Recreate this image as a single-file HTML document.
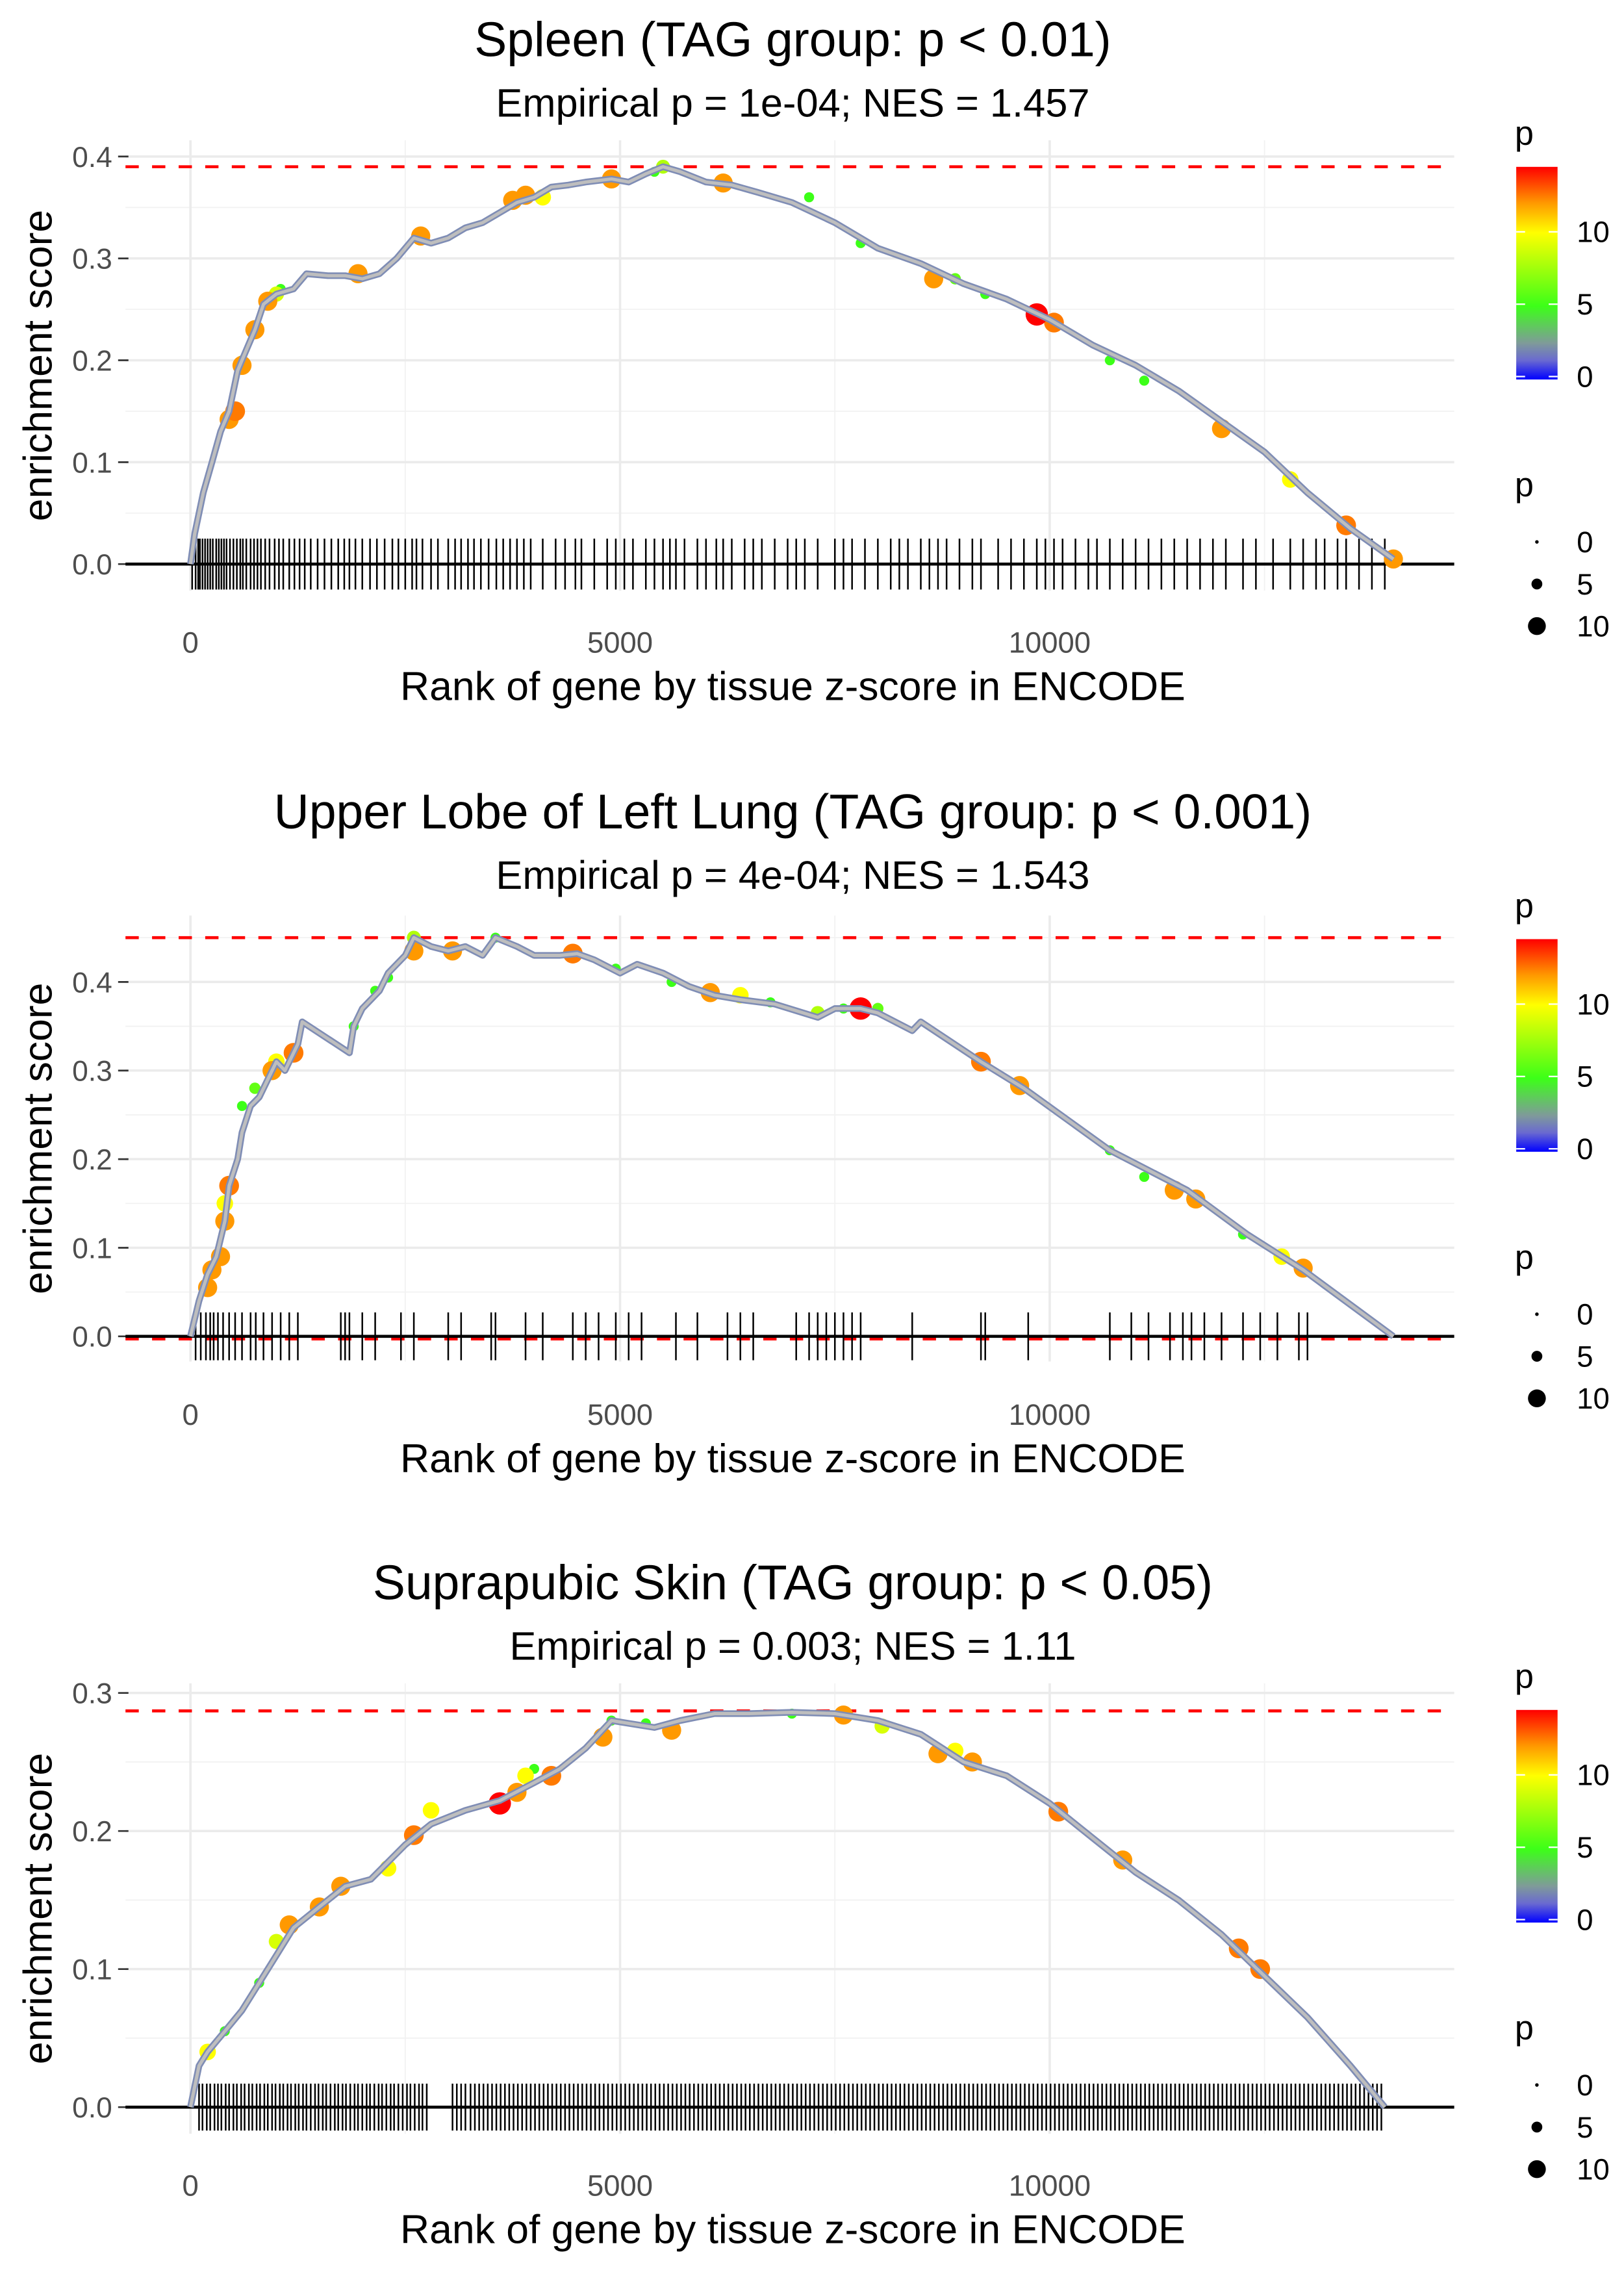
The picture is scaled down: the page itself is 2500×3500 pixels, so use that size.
<!DOCTYPE html>
<html><head><meta charset="utf-8"><style>
html,body{margin:0;padding:0;background:#fff;}
svg{display:block;font-family:"Liberation Sans",sans-serif;}
</style></head><body>
<svg id="chart" xmlns="http://www.w3.org/2000/svg" width="2500" height="3500" viewBox="0 0 1100 1540">
<defs>
<linearGradient id="cbar" x1="0" y1="1" x2="0" y2="0">
<stop offset="0" stop-color="#0000ff"/><stop offset="0.09" stop-color="#6a6ad0"/><stop offset="0.17" stop-color="#7f9a9a"/><stop offset="0.345" stop-color="#3cff18"/><stop offset="0.69" stop-color="#ffff00"/><stop offset="0.83" stop-color="#ff9900"/><stop offset="1" stop-color="#ff0000"/>
</linearGradient>
</defs>
</svg>
<script>
// ---------- data ----------
const p1Curve = [[0,0],[50,0.03],[150,0.07],[250,0.1],[350,0.13],[450,0.15],[550,0.19],[650,0.21],[750,0.23],[850,0.255],[1000,0.265],[1200,0.27],[1350,0.285],[1600,0.283],[1800,0.283],[2000,0.28],[2200,0.285],[2400,0.3],[2600,0.32],[2800,0.315],[3000,0.32],[3200,0.33],[3400,0.335],[3600,0.345],[3800,0.355],[4000,0.36],[4200,0.37],[4400,0.372],[4600,0.375],[4900,0.378],[5100,0.375],[5300,0.383],[5500,0.39],[5700,0.385],[6000,0.375],[6300,0.372],[6600,0.365],[7000,0.355],[7500,0.335],[8000,0.31],[8500,0.295],[9000,0.275],[9500,0.26],[9800,0.248],[10000,0.24],[10500,0.215],[11000,0.195],[11500,0.17],[12000,0.14],[12500,0.11],[13000,0.07],[13500,0.035],[14000,0.005]];
const p1Dots = [[450,0.142,12],[520,0.15,12.5],[600,0.195,12],[750,0.23,12],[900,0.258,12],[1950,0.285,12],[2680,0.322,12],[3750,0.357,12],[3900,0.362,12],[4900,0.378,12],[6200,0.374,12],[8650,0.28,12],[9850,0.245,14.5],[10050,0.237,12.5],[12000,0.133,12],[13450,0.038,12.5],[14000,0.005,12],[4100,0.36,10],[5500,0.39,8],[12800,0.083,10],[1000,0.265,9],[600,0.2,5],[1050,0.27,5],[5400,0.385,5],[7800,0.315,5],[8900,0.28,6],[9250,0.265,5],[10700,0.2,5],[11100,0.18,5],[7200,0.36,5]];
const p1Ticks = [20,60,90,110,140,170,200,230,260,300,330,360,390,420,460,500,540,580,610,650,700,740,780,820,870,920,980,1030,1080,1150,1210,1270,1330,1400,1480,1560,1640,1720,1790,1850,1920,2000,2090,2170,2260,2350,2420,2500,2580,2630,2700,2800,2880,3000,3080,3150,3230,3300,3380,3470,3560,3640,3720,3800,3880,3960,4100,4250,4360,4480,4550,4700,4850,4950,5050,5150,5300,5400,5500,5580,5650,5750,5900,6000,6120,6200,6300,6450,6550,6650,6800,6950,7050,7150,7300,7500,7600,7700,7850,8000,8150,8250,8350,8500,8600,8700,8800,8950,9100,9200,9400,9550,9700,9850,9950,10050,10150,10300,10450,10550,10700,10850,11000,11150,11300,11450,11600,11750,11900,12050,12250,12400,12600,12800,12950,13100,13200,13350,13450,13600,13750,13900];
const p2Curve = [[0,0],[100,0.04],[200,0.07],[300,0.09],[400,0.13],[450,0.17],[550,0.2],[600,0.23],[700,0.26],[800,0.27],[900,0.29],[1000,0.31],[1100,0.3],[1250,0.33],[1300,0.355],[1850,0.32],[1900,0.35],[2000,0.37],[2100,0.38],[2200,0.39],[2300,0.41],[2500,0.43],[2600,0.45],[2800,0.44],[3000,0.435],[3200,0.44],[3400,0.43],[3550,0.45],[3800,0.44],[4000,0.43],[4300,0.43],[4500,0.432],[4700,0.425],[5000,0.41],[5200,0.42],[5500,0.41],[5800,0.395],[6100,0.385],[6400,0.38],[6800,0.375],[7300,0.36],[7500,0.37],[7800,0.37],[8000,0.365],[8400,0.345],[8500,0.355],[9200,0.31],[9700,0.28],[10700,0.21],[11600,0.165],[12300,0.115],[12950,0.075],[14000,0]];
const p2Dots = [[200,0.055,12],[250,0.075,12],[350,0.09,12],[400,0.13,12],[450,0.17,12.5],[950,0.3,12],[1200,0.32,12.5],[2600,0.435,12],[3050,0.435,12],[4450,0.432,12.5],[6050,0.388,12],[6400,0.385,10],[7800,0.37,14.5],[9200,0.31,12.5],[9650,0.283,12],[11450,0.165,12],[11700,0.155,12],[12950,0.077,12],[1000,0.31,10],[2600,0.45,8],[7300,0.365,8],[12700,0.09,10],[400,0.15,10],[600,0.26,5],[750,0.28,6],[1900,0.35,5],[2150,0.39,5],[2300,0.405,5],[3550,0.45,5],[4950,0.415,5],[5600,0.4,5],[6750,0.377,5],[7600,0.37,5],[8000,0.37,6],[10700,0.21,5],[12250,0.115,5],[11100,0.18,5]];
const p2Ticks = [60,120,180,230,270,320,380,450,520,600,700,760,850,950,1050,1150,1250,1750,1800,1850,2000,2150,2450,2600,3000,3150,3500,3550,3900,4100,4450,4600,4750,4950,5100,5250,5650,5900,6250,6400,6550,7050,7200,7300,7400,7500,7600,7700,7800,8400,9200,9250,9750,10700,10950,11150,11400,11550,11650,11800,12000,12250,12450,12650,12900,13000];
const p3Curve = [[0,0],[100,0.03],[200,0.04],[400,0.055],[600,0.07],[800,0.09],[1000,0.11],[1200,0.13],[1500,0.145],[1800,0.16],[2100,0.165],[2500,0.19],[2800,0.205],[3200,0.215],[3600,0.222],[4000,0.235],[4300,0.245],[4600,0.26],[4900,0.28],[5100,0.278],[5400,0.275],[5700,0.28],[6100,0.285],[6500,0.285],[7000,0.286],[7500,0.285],[8000,0.28],[8500,0.27],[9000,0.25],[9500,0.24],[10000,0.22],[10500,0.195],[11000,0.17],[11500,0.15],[12000,0.125],[12500,0.095],[13000,0.065],[13500,0.03],[13900,0]];
const p3Dots = [[1150,0.132,12],[1500,0.145,12],[1750,0.16,12],[2600,0.197,12.5],[3600,0.22,14.5],[3800,0.228,12],[4200,0.24,12.5],[4800,0.268,12],[5600,0.273,12],[7600,0.284,12],[8700,0.256,12],[9100,0.25,12],[10100,0.214,12.5],[10850,0.179,12],[12200,0.115,12.5],[12450,0.1,12.5],[200,0.04,10],[1000,0.12,9],[2300,0.173,10],[2800,0.215,10],[3900,0.24,10],[8050,0.276,9],[8900,0.258,10],[400,0.055,5],[800,0.09,5],[4000,0.245,5],[4900,0.28,5],[5300,0.278,5],[7000,0.285,5]];
const p3Ticks = [100,140,190,230,280,320,360,410,450,500,540,590,630,680,720,770,810,860,900,950,990,1040,1080,1130,1170,1220,1260,1310,1350,1400,1450,1490,1540,1580,1630,1680,1720,1770,1810,1860,1910,1950,2000,2050,2090,2140,2190,2230,2280,2330,2370,2420,2470,2520,2560,2610,2660,2700,2750,3050,3100,3150,3200,3260,3310,3360,3410,3460,3510,3560,3610,3660,3710,3760,3810,3860,3910,3960,4010,4060,4110,4160,4210,4260,4310,4360,4410,4460,4510,4560,4610,4660,4710,4760,4810,4860,4910,4960,5010,5060,5110,5160,5210,5260,5310,5360,5410,5460,5510,5560,5610,5660,5710,5760,5810,5860,5910,5960,6010,6060,6110,6160,6210,6260,6310,6360,6410,6460,6510,6560,6610,6660,6710,6760,6810,6860,6910,6960,7010,7060,7110,7160,7210,7260,7310,7360,7410,7460,7510,7560,7610,7660,7710,7760,7810,7860,7910,7960,8010,8060,8110,8160,8210,8260,8310,8360,8410,8460,8510,8560,8610,8660,8710,8760,8810,8860,8910,8960,9010,9060,9110,9160,9210,9260,9310,9360,9410,9460,9510,9560,9610,9660,9710,9760,9810,9860,9910,9960,10010,10060,10110,10160,10210,10260,10310,10360,10410,10460,10510,10560,10610,10660,10710,10760,10810,10860,10910,10960,11010,11060,11110,11160,11210,11260,11310,11360,11410,11460,11510,11560,11610,11660,11710,11760,11810,11860,11910,11960,12010,12060,12110,12160,12210,12260,12310,12360,12410,12460,12510,12560,12610,12660,12710,12760,12810,12860,12910,12960,13010,13060,13110,13160,13210,13260,13310,13360,13410,13460,13510,13560,13610,13660,13710,13760,13810,13860];
const xTickVals = [0,5000,10000];
const xTickLabels = ["0","5000","10000"];
const p1Max = 0.39, p2Max = 0.45, p2Min = -0.003, p3Max = 0.287;
const titles = ["Spleen (TAG group: p < 0.01)","Upper Lobe of Left Lung (TAG group: p < 0.001)","Suprapubic Skin (TAG group: p < 0.05)"];
const subtitles = ["Empirical p = 1e-04; NES = 1.457","Empirical p = 4e-04; NES = 1.543","Empirical p = 0.003; NES = 1.11"];
const yTicks1 = [0,0.1,0.2,0.3,0.4];
const yTicks2 = [0,0.1,0.2,0.3,0.4];
const yTicks3 = [0,0.1,0.2,0.3];
const legendColorTicks = [0,5,10];
const legendSizeVals = [0,5,10];

// ---------- rendering ----------
const NS = "http://www.w3.org/2000/svg";
const svg = document.getElementById("chart");
function mk(tag, attrs, parent){ const e=document.createElementNS(NS,tag); for(const k in attrs) e.setAttribute(k,attrs[k]); (parent||svg).appendChild(e); return e; }
function xScale(v){ return 129 + v*291/5000; }
const X0 = 85, X1 = 985;
const stops = [[0,[0,0,255]],[1.3,[106,106,208]],[2.5,[127,154,154]],[5,[60,255,24]],[10,[255,255,0]],[12,[255,153,0]],[14.5,[255,0,0]]];
function pColor(p){ for(let i=1;i<stops.length;i++){ if(p<=stops[i][0]){ const a=stops[i-1],b=stops[i]; const t=(p-a[0])/(b[0]-a[0]); const c=a[1].map((v,j)=>Math.round(v+(b[1][j]-v)*t)); return `rgb(${c[0]},${c[1]},${c[2]})`; } } return "rgb(255,0,0)"; }
function pRadius(p){ return 1.2 + p*0.44; }

function panel(idx, off, y0, k, yTicks, yMinorTop, top, bottom, curve, dots, ticks, tickHalf, maxes){
  const g = mk("g",{});
  
  
  const yS = v => y0 - v*k;
  for(let v=0.05; v<yMinorTop; v+=0.1){
    const l=mk("line",{x1:X0,x2:X1,y1:yS(v),y2:yS(v),stroke:"#f2f2f2","stroke-width":0.8},g);
     
  }
  [2500,7500,12500].forEach(v=>{
    const l=mk("line",{x1:xScale(v),x2:xScale(v),y1:top,y2:bottom,stroke:"#f2f2f2","stroke-width":0.8},g);
     
  });
  yTicks.forEach(v=>{
    const l=mk("line",{x1:X0,x2:X1,y1:yS(v),y2:yS(v),stroke:"#ebebeb","stroke-width":1.6},g);
     
    const tm=mk("line",{x1:80,x2:87,y1:yS(v),y2:yS(v),stroke:"#333","stroke-width":1.2},g);
     
    const t=mk("text",{x:76,y:yS(v)+7,"text-anchor":"end","font-size":19.5,fill:"#4d4d4d"},g);
    t.textContent=v.toFixed(1);
     
  });
  xTickVals.forEach((v,i)=>{
    const l=mk("line",{x1:xScale(v),x2:xScale(v),y1:top,y2:bottom,stroke:"#ebebeb","stroke-width":1.6},g);
     
    const t=mk("text",{x:xScale(v),y:off+442,"text-anchor":"middle","font-size":20,fill:"#4d4d4d"},g);
    t.textContent=xTickLabels[i];
     
  });
  maxes.forEach(m=>{
    const l=mk("line",{x1:X0,x2:X1,y1:yS(m),y2:yS(m),stroke:"#ff0000","stroke-width":2,"stroke-dasharray":"9,9"},g);
     
  });
  ticks.forEach(r=>{
    const l=mk("line",{x1:xScale(r),x2:xScale(r),y1:yS(tickHalf),y2:yS(-tickHalf),stroke:"#000","stroke-width":1.1},g);
     
  });
  const bl=mk("line",{x1:X0,x2:X1,y1:y0,y2:y0,stroke:"#000","stroke-width":2},g);
   
  dots.slice().sort((a,b)=>a[2]-b[2]).forEach(d=>{
    const c=mk("circle",{cx:xScale(d[0]),cy:yS(d[1]),r:pRadius(d[2]),fill:pColor(d[2])},g);
     
  });
  const pts = curve.map(p=>xScale(p[0]).toFixed(1)+","+yS(p[1]).toFixed(1)).join(" ");
  const under=mk("polyline",{points:pts,fill:"none",stroke:"#7f8db5","stroke-width":4.5,"stroke-linejoin":"round"},g);
   
  const line=mk("polyline",{points:pts,fill:"none",stroke:"#bebebe","stroke-width":2.2,"stroke-linejoin":"round"},g);
   
  const tt=mk("text",{x:537,y:off+38,"text-anchor":"middle","font-size":33,fill:"#000"},g);
  tt.textContent=titles[idx];  
  const st=mk("text",{x:537,y:off+79,"text-anchor":"middle","font-size":27,fill:"#000"},g);
  st.textContent=subtitles[idx];  
  const xt=mk("text",{x:537,y:off+474,"text-anchor":"middle","font-size":27.5,fill:"#000"},g);
  xt.textContent="Rank of gene by tissue z-score in ENCODE";  
  const cy=(top+bottom)/2;
  const yt=mk("text",{x:0,y:0,"text-anchor":"middle","font-size":27.5,fill:"#000",transform:`translate(35,${cy}) rotate(-90)`},g);
  yt.textContent="enrichment score";  
  const lg=mk("g",{},g);
   
  const lt=mk("text",{x:1026,y:off+98,"font-size":23,fill:"#000"},lg); lt.textContent="p";
   
  const cb=mk("rect",{x:1027,y:off+113,width:28,height:144,fill:"url(#cbar)"},lg);
   
  legendColorTicks.forEach(v=>{
    const yy=off+255-v*9.8;
    mk("line",{x1:1027,x2:1033,y1:yy,y2:yy,stroke:"#fff","stroke-width":1},lg);
    mk("line",{x1:1049,x2:1055,y1:yy,y2:yy,stroke:"#fff","stroke-width":1},lg);
    const t=mk("text",{x:1068,y:yy+7,"font-size":20,fill:"#000"},lg); t.textContent=String(v);
     
  });
  const sg=mk("g",{},g);
   
  const s1=mk("text",{x:1026,y:off+336,"font-size":23,fill:"#000"},sg); s1.textContent="p";
   
  legendSizeVals.forEach((v,i)=>{
    const yy=off+367+i*28.5;
    const c=mk("circle",{cx:1041,cy:yy,r:pRadius(v)*(v===0?1:1.08),fill:"#000"},sg);
     
    const t=mk("text",{x:1068,y:yy+7,"font-size":20,fill:"#000"},sg); t.textContent=String(v);
     
  });
}
panel(0, 0, 382, 690, yTicks1, 0.42, 95, 400, p1Curve, p1Dots, p1Ticks, 0.025, [p1Max]);
panel(1, 523, 905, 600, yTicks2, 0.47, 620, 922, p2Curve, p2Dots, p2Ticks, 0.027, [p2Max, p2Min]);
panel(2, 1045, 1427, 935, yTicks3, 0.31, 1140, 1445, p3Curve, p3Dots, p3Ticks, 0.017, [p3Max]);
</script>
</body></html>
